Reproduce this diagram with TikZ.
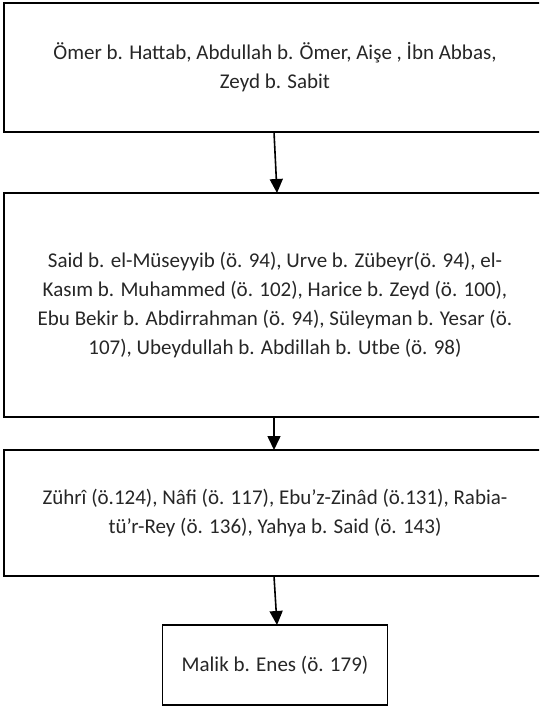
\documentclass[tikz,border=0pt]{standalone}
\usepackage{fontspec}
\setmainfont{Carlito}
\usetikzlibrary{positioning, arrows.meta}

\begin{document}
\begin{tikzpicture}[x=1pt, y=-1pt,
    box/.style={rectangle, draw, line width=1.6pt, inner sep=0pt, outer sep=0pt, minimum width=542pt, align=center, text=black!85},
    line/.style={draw, line width=1.6pt, -{Triangle[length=14pt, width=13pt]}},
    every node/.style={font=\fontsize{21}{29}\selectfont}
]
\useasboundingbox (0,0) rectangle (539,707);
\clip (0,0) rectangle (539,707);

% Boxes
\node[box, minimum height=129pt] (sahabe) at (275,67.5) {Ömer b. Hattab, Abdullah b. Ömer, Aişe , İbn Abbas,\\Zeyd b. Sabit};
\node[box, minimum height=224pt, below=61pt of sahabe] (tabiun) {Said b. el-Müseyyib (ö. 94), Urve b. Zübeyr(ö. 94), el-\\Kasım b. Muhammed (ö. 102), Harice b. Zeyd (ö. 100),\\Ebu Bekir b. Abdirrahman (ö. 94), Süleyman b. Yesar (ö.\\107), Ubeydullah b. Abdillah b. Utbe (ö. 98)};
\node[box, minimum height=126pt, below=33pt of tabiun] (tebe) {Zührî (ö.124), Nâfi (ö. 117), Ebu’z-Zinâd (ö.131), Rabia-\\tü’r-Rey (ö. 136), Yahya b. Said (ö. 143)};
\node[box, minimum width=225pt, minimum height=80pt, below=49pt of tebe] (malik) {Malik b. Enes (ö. 179)};

% Arrows
\draw[line] ([xshift=-1pt]sahabe.south) -- ([xshift=2pt]tabiun.north);
\draw[line] ([xshift=-1pt]tabiun.south) -- ([xshift=-1pt]tebe.north);
\draw[line] ([xshift=-1pt]tebe.south) -- ([xshift=2pt]malik.north);

\end{tikzpicture}
\end{document}
